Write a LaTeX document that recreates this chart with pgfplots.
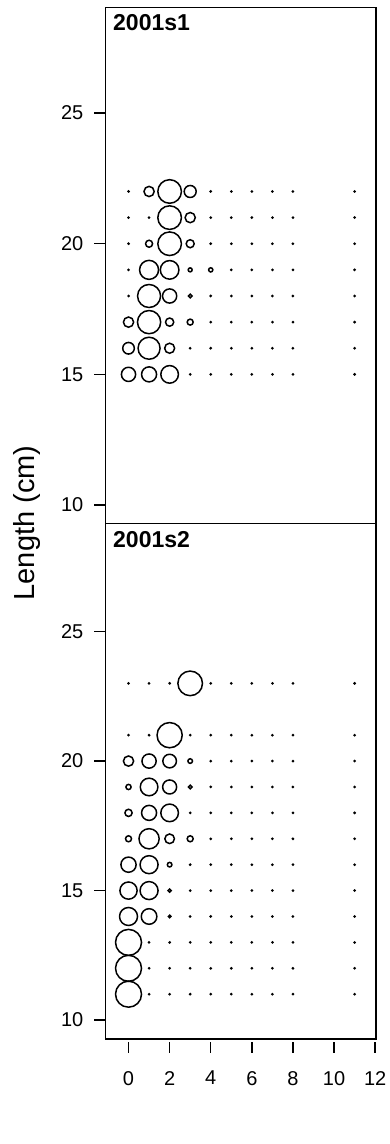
\documentclass[border=0pt]{standalone}
\usepackage{fontspec}
\setmainfont{Liberation Sans}
\usepackage{pgfplots}
\pgfplotsset{compat=1.18}
\usepackage{pgfplotstable}

% Bubble radii (outer, pt) by age and length; 0 = no observations
\pgfplotstableread[row sep=\\]{
age len r\\
0 22 0\\ 1 22 5.8\\ 2 22 12.5\\ 3 22 6.7\\ 4 22 0\\ 5 22 0\\ 6 22 0\\ 7 22 0\\ 8 22 0\\ 11 22 0\\
0 21 0\\ 1 21 0\\ 2 21 12.5\\ 3 21 5.8\\ 4 21 0\\ 5 21 0\\ 6 21 0\\ 7 21 0\\ 8 21 0\\ 11 21 0\\
0 20 0\\ 1 20 4.2\\ 2 20 12.5\\ 3 20 4.7\\ 4 20 0\\ 5 20 0\\ 6 20 0\\ 7 20 0\\ 8 20 0\\ 11 20 0\\
0 19 0\\ 1 19 10.2\\ 2 19 10.0\\ 3 19 2.7\\ 4 19 2.8\\ 5 19 0\\ 6 19 0\\ 7 19 0\\ 8 19 0\\ 11 19 0\\
0 18 0\\ 1 18 12.2\\ 2 18 7.8\\ 3 18 2.5\\ 4 18 0\\ 5 18 0\\ 6 18 0\\ 7 18 0\\ 8 18 0\\ 11 18 0\\
0 17 5.8\\ 1 17 12.3\\ 2 17 4.8\\ 3 17 3.7\\ 4 17 0\\ 5 17 0\\ 6 17 0\\ 7 17 0\\ 8 17 0\\ 11 17 0\\
0 16 6.5\\ 1 16 11.7\\ 2 16 5.7\\ 3 16 0\\ 4 16 0\\ 5 16 0\\ 6 16 0\\ 7 16 0\\ 8 16 0\\ 11 16 0\\
0 15 7.8\\ 1 15 8.2\\ 2 15 9.5\\ 3 15 0\\ 4 15 0\\ 5 15 0\\ 6 15 0\\ 7 15 0\\ 8 15 0\\ 11 15 0\\
}\sone

\pgfplotstableread[row sep=\\]{
age len r\\
0 23 0\\ 1 23 0\\ 2 23 0\\ 3 23 13.0\\ 4 23 0\\ 5 23 0\\ 6 23 0\\ 7 23 0\\ 8 23 0\\ 11 23 0\\
0 21 0\\ 1 21 0\\ 2 21 13.3\\ 3 21 0\\ 4 21 0\\ 5 21 0\\ 6 21 0\\ 7 21 0\\ 8 21 0\\ 11 21 0\\
0 20 5.8\\ 1 20 7.8\\ 2 20 7.5\\ 3 20 3.0\\ 4 20 0\\ 5 20 0\\ 6 20 0\\ 7 20 0\\ 8 20 0\\ 11 20 0\\
0 19 3.3\\ 1 19 9.5\\ 2 19 7.7\\ 3 19 2.5\\ 4 19 0\\ 5 19 0\\ 6 19 0\\ 7 19 0\\ 8 19 0\\ 11 19 0\\
0 18 4.3\\ 1 18 8.2\\ 2 18 9.5\\ 3 18 0\\ 4 18 0\\ 5 18 0\\ 6 18 0\\ 7 18 0\\ 8 18 0\\ 11 18 0\\
0 17 3.7\\ 1 17 10.8\\ 2 17 5.5\\ 3 17 3.7\\ 4 17 0\\ 5 17 0\\ 6 17 0\\ 7 17 0\\ 8 17 0\\ 11 17 0\\
0 16 8.3\\ 1 16 9.7\\ 2 16 3.0\\ 3 16 0\\ 4 16 0\\ 5 16 0\\ 6 16 0\\ 7 16 0\\ 8 16 0\\ 11 16 0\\
0 15 9.3\\ 1 15 9.7\\ 2 15 2.3\\ 3 15 0\\ 4 15 0\\ 5 15 0\\ 6 15 0\\ 7 15 0\\ 8 15 0\\ 11 15 0\\
0 14 9.7\\ 1 14 8.5\\ 2 14 2.0\\ 3 14 0\\ 4 14 0\\ 5 14 0\\ 6 14 0\\ 7 14 0\\ 8 14 0\\ 11 14 0\\
0 13 13.7\\ 1 13 0\\ 2 13 0\\ 3 13 0\\ 4 13 0\\ 5 13 0\\ 6 13 0\\ 7 13 0\\ 8 13 0\\ 11 13 0\\
0 12 13.7\\ 1 12 0\\ 2 12 0\\ 3 12 0\\ 4 12 0\\ 5 12 0\\ 6 12 0\\ 7 12 0\\ 8 12 0\\ 11 12 0\\
0 11 13.7\\ 1 11 0\\ 2 11 0\\ 3 11 0\\ 4 11 0\\ 5 11 0\\ 6 11 0\\ 7 11 0\\ 8 11 0\\ 11 11 0\\
}\stwo

\pgfplotsset{
  bubblepanel/.style={
    scale only axis,
    width=270.5pt,
    xmin=-1.12, xmax=12.04,
    axis line style={line width=1.5pt},
    ytick={10,15,20,25},
    ytick pos=left,
    tick align=outside,
    major tick length=11pt,
    tick style={line width=1.4pt, black},
    ticklabel style={font=\fontsize{20}{20}\selectfont},
    /pgf/number format/assume math mode=true,
    yticklabel style={anchor=east, inner sep=0pt, xshift=-11pt},
  },
  bubbles/.style={
    scatter, only marks, mark=o, black, line width=1.5pt,
    point meta=\thisrow{r},
    scatter/use mapped color={draw=black},
    visualization depends on={max(\thisrow{r}-0.7,0.45) \as \rad},
    scatter/@pre marker code/.append style={/tikz/mark size=\rad pt},
  },
}

\begin{document}
\begin{tikzpicture}
\useasboundingbox (0,0) rectangle (389pt,1144pt);

\begin{axis}[bubblepanel,
  at={(105.5pt,620.7pt)}, anchor=south west,
  height=516pt, ymin=9.3, ymax=29.05,
  xtick=\empty]
  \addplot[bubbles] table[x=age, y=len] {\sone};
  \node[anchor=base west, inner sep=0pt, font=\fontsize{23}{23}\selectfont\bfseries]
    at (rel axis cs:0,1) [xshift=7.5pt, yshift=-23.4pt] {2001s1};
\end{axis}

\begin{axis}[bubblepanel,
  at={(105.5pt,105pt)}, anchor=south west,
  height=515.7pt, ymin=9.27, ymax=29.18,
  xtick={0,2,...,12}, xtick pos=bottom,
  xtick style={yshift=-2.7pt},
  xticklabel style={anchor=north, inner sep=0pt, yshift=-21pt}]
  \addplot[bubbles] table[x=age, y=len] {\stwo};
  \node[anchor=base west, inner sep=0pt, font=\fontsize{23}{23}\selectfont\bfseries]
    at (rel axis cs:0,1) [xshift=7.5pt, yshift=-24pt] {2001s2};
\end{axis}

\node[rotate=90, font=\fontsize{29}{29}\selectfont] at (27.5pt,621pt) {Length (cm)};
\end{tikzpicture}
\end{document}
